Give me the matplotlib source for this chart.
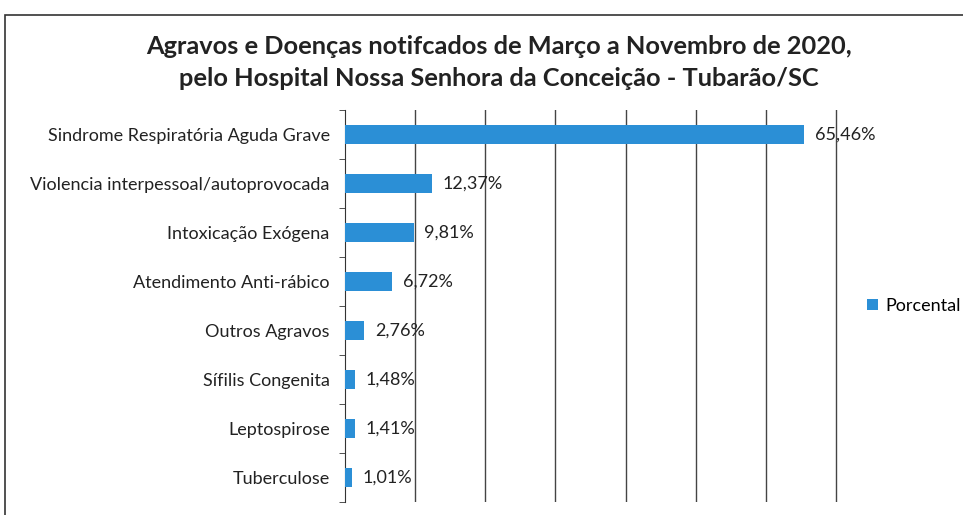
import numpy as np
import matplotlib.pyplot as plt
from matplotlib.patches import Rectangle

# Dados (percentual de notificações)
categorias = ['Sindrome Respiratória Aguda Grave',
              'Violencia interpessoal/autoprovocada',
              'Intoxicação Exógena',
              'Atendimento Anti-rábico',
              'Outros Agravos',
              'Sífilis Congenita',
              'Leptospirose',
              'Tuberculose']
porcentagens = [65.46, 12.37, 9.81, 6.72, 2.76, 1.48, 1.41, 1.01]
rotulos = ['65,46%', '12,37%', '9,81%', '6,72%', '2,76%', '1,48%', '1,41%', '1,01%']

titulo = ('Agravos e Doenças notifcados de Março a Novembro de 2020,\n'
          'pelo Hospital Nossa Senhora da Conceição - Tubarão/SC')

plt.rcParams['font.family'] = ['Lato', 'DejaVu Sans']
azul = '#2b8fd6'

fig = plt.figure(figsize=(9.63, 5.15), dpi=100)
ax = fig.add_axes([345 / 963, 13 / 515, (838 - 345) / 963, 392 / 515])

y = np.arange(len(categorias))
ax.barh(y, porcentagens, height=0.4, color=azul, label='Porcental', zorder=3)

# rótulos de dados ao lado das barras
for yi, v, r in zip(y, porcentagens, rotulos):
    ax.text(v + 1.5, yi, r, va='center', ha='left', fontsize=13,
            color='#222222', clip_on=False, zorder=4)

ax.set_xlim(0, 70.3)
ax.set_ylim(len(categorias) - 0.5, -0.5)
ax.set_xticks(np.arange(10, 71, 10))
ax.tick_params(axis='x', length=0, labelbottom=False)
ax.grid(axis='x', color='#444444', linewidth=1.0, zorder=0)

# eixo vertical estilo Excel: marcas entre categorias
ax.set_yticks(y)
ax.set_yticklabels(categorias, fontsize=13, color='#222222')
ax.tick_params(axis='y', length=0, pad=11)
ax.set_yticks(np.arange(-0.5, len(categorias)), minor=True)
ax.tick_params(axis='y', which='minor', length=4, color='#333333')

for s in ['top', 'right', 'bottom']:
    ax.spines[s].set_visible(False)
ax.spines['left'].set_color('#333333')

fig.text(499 / 963, 1 - 62.5 / 515, titulo, ha='center', va='center', fontsize=18.3,
         fontweight='bold', color='#222222', linespacing=1.45)

ax.legend(loc='center left', bbox_to_anchor=(1.045, 0.5), frameon=False,
          fontsize=13, handlelength=0.6, handleheight=0.6, handletextpad=0.4,
          borderaxespad=0)

# borda da área do gráfico
fig.patches.append(Rectangle((5 / 963, -0.1), 1.1, (515 - 15) / 515 + 0.1,
                             transform=fig.transFigure, fill=False,
                             edgecolor='#333333', linewidth=1.2))

fig.savefig('out.png', dpi=100)
